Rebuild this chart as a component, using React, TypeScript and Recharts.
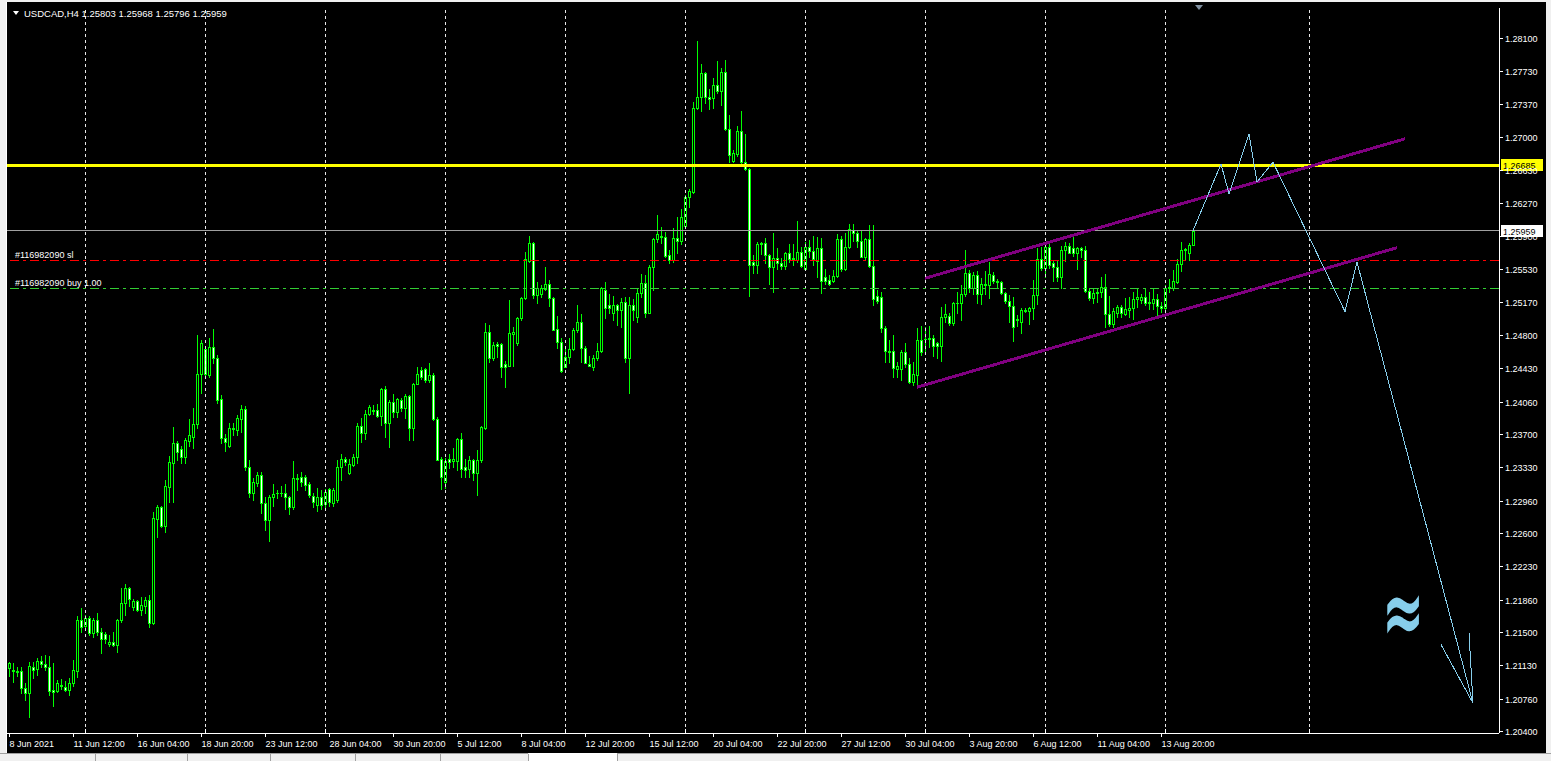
import { ComposedChart, Bar, Line, XAxis, YAxis, ReferenceLine } from "recharts"

// ── USDCAD H4 candles: [open, high, low, close] ───────────────────────────────
const CANDLES: number[][] = [
  [1.2110, 1.2117, 1.2101, 1.2116], [1.2108, 1.2116, 1.2094, 1.2107], [1.2107, 1.2111, 1.2101, 1.2106], [1.2107, 1.2111, 1.2082, 1.2088],
  [1.2088, 1.2093, 1.2074, 1.2082], [1.2082, 1.2117, 1.2056, 1.2112], [1.2111, 1.2117, 1.2099, 1.2108], [1.2109, 1.2121, 1.2102, 1.2118],
  [1.2118, 1.2123, 1.2111, 1.2114], [1.2114, 1.2125, 1.2108, 1.2111], [1.2111, 1.2123, 1.2080, 1.2084], [1.2086, 1.2116, 1.2068, 1.2083],
  [1.2084, 1.2097, 1.2083, 1.2093], [1.2091, 1.2098, 1.2087, 1.2090], [1.2089, 1.2096, 1.2084, 1.2086], [1.2086, 1.2099, 1.2080, 1.2093],
  [1.2093, 1.2119, 1.2090, 1.2108], [1.2107, 1.2168, 1.2100, 1.2163], [1.2163, 1.2177, 1.2150, 1.2156], [1.2157, 1.2169, 1.2152, 1.2166],
  [1.2166, 1.2168, 1.2147, 1.2149], [1.2149, 1.2166, 1.2144, 1.2163], [1.2163, 1.2171, 1.2147, 1.2150], [1.2150, 1.2154, 1.2127, 1.2142],
  [1.2148, 1.2150, 1.2138, 1.2142], [1.2137, 1.2147, 1.2135, 1.2139], [1.2139, 1.2150, 1.2134, 1.2136], [1.2136, 1.2164, 1.2128, 1.2163],
  [1.2163, 1.2199, 1.2161, 1.2182], [1.2182, 1.2203, 1.2169, 1.2199], [1.2199, 1.2200, 1.2179, 1.2187], [1.2178, 1.2187, 1.2174, 1.2184],
  [1.2184, 1.2186, 1.2173, 1.2174], [1.2174, 1.2189, 1.2169, 1.2180], [1.2179, 1.2189, 1.2171, 1.2186], [1.2186, 1.2191, 1.2156, 1.2160],
  [1.2160, 1.2283, 1.2159, 1.2277], [1.2276, 1.2291, 1.2256, 1.2289], [1.2289, 1.2290, 1.2267, 1.2268], [1.2268, 1.2319, 1.2261, 1.2312],
  [1.2311, 1.2346, 1.2294, 1.2339], [1.2338, 1.2378, 1.2294, 1.2360], [1.2360, 1.2362, 1.2341, 1.2350], [1.2353, 1.2357, 1.2338, 1.2344],
  [1.2344, 1.2366, 1.2338, 1.2363], [1.2362, 1.2387, 1.2357, 1.2369], [1.2367, 1.2399, 1.2354, 1.2381], [1.2381, 1.2480, 1.2377, 1.2437],
  [1.2437, 1.2474, 1.2416, 1.2471], [1.2464, 1.2468, 1.2433, 1.2437], [1.2436, 1.2477, 1.2433, 1.2467], [1.2467, 1.2487, 1.2449, 1.2454],
  [1.2454, 1.2458, 1.2404, 1.2408], [1.2409, 1.2413, 1.2360, 1.2366], [1.2366, 1.2370, 1.2351, 1.2361], [1.2357, 1.2382, 1.2356, 1.2377],
  [1.2377, 1.2382, 1.2369, 1.2376], [1.2374, 1.2391, 1.2369, 1.2388], [1.2387, 1.2402, 1.2372, 1.2398], [1.2398, 1.2401, 1.2330, 1.2333],
  [1.2333, 1.2341, 1.2300, 1.2304], [1.2304, 1.2321, 1.2297, 1.2317], [1.2316, 1.2328, 1.2312, 1.2324], [1.2324, 1.2328, 1.2282, 1.2293],
  [1.2293, 1.2300, 1.2263, 1.2274], [1.2274, 1.2302, 1.2251, 1.2300], [1.2300, 1.2314, 1.2290, 1.2303], [1.2304, 1.2308, 1.2299, 1.2305],
  [1.2305, 1.2312, 1.2301, 1.2304], [1.2304, 1.2314, 1.2287, 1.2300], [1.2300, 1.2301, 1.2281, 1.2289], [1.2289, 1.2340, 1.2287, 1.2321],
  [1.2321, 1.2326, 1.2308, 1.2320], [1.2322, 1.2328, 1.2312, 1.2317], [1.2322, 1.2325, 1.2308, 1.2313], [1.2314, 1.2317, 1.2300, 1.2302],
  [1.2301, 1.2305, 1.2289, 1.2294], [1.2291, 1.2310, 1.2285, 1.2300], [1.2300, 1.2308, 1.2287, 1.2291], [1.2292, 1.2309, 1.2288, 1.2306],
  [1.2309, 1.2310, 1.2290, 1.2294], [1.2293, 1.2310, 1.2290, 1.2308], [1.2297, 1.2341, 1.2294, 1.2333], [1.2333, 1.2348, 1.2319, 1.2342],
  [1.2342, 1.2344, 1.2336, 1.2339], [1.2327, 1.2342, 1.2326, 1.2337], [1.2336, 1.2348, 1.2334, 1.2345], [1.2345, 1.2382, 1.2338, 1.2379],
  [1.2379, 1.2388, 1.2361, 1.2371], [1.2371, 1.2397, 1.2364, 1.2392], [1.2392, 1.2402, 1.2391, 1.2400], [1.2396, 1.2402, 1.2392, 1.2397],
  [1.2397, 1.2403, 1.2389, 1.2390], [1.2390, 1.2421, 1.2380, 1.2420], [1.2420, 1.2423, 1.2367, 1.2382], [1.2382, 1.2408, 1.2356, 1.2406],
  [1.2406, 1.2414, 1.2389, 1.2394], [1.2394, 1.2410, 1.2389, 1.2409], [1.2408, 1.2410, 1.2395, 1.2399], [1.2399, 1.2414, 1.2388, 1.2412],
  [1.2412, 1.2413, 1.2363, 1.2377], [1.2377, 1.2427, 1.2363, 1.2426], [1.2426, 1.2444, 1.2425, 1.2437], [1.2441, 1.2444, 1.2431, 1.2433],
  [1.2442, 1.2443, 1.2428, 1.2430], [1.2430, 1.2449, 1.2428, 1.2436], [1.2436, 1.2438, 1.2386, 1.2387], [1.2387, 1.2389, 1.2341, 1.2341],
  [1.2342, 1.2344, 1.2309, 1.2322], [1.2317, 1.2343, 1.2310, 1.2340], [1.2342, 1.2348, 1.2332, 1.2339], [1.2340, 1.2354, 1.2333, 1.2342],
  [1.2340, 1.2366, 1.2330, 1.2364], [1.2364, 1.2371, 1.2322, 1.2331], [1.2333, 1.2342, 1.2322, 1.2330], [1.2331, 1.2346, 1.2322, 1.2341],
  [1.2341, 1.2342, 1.2319, 1.2327], [1.2327, 1.2352, 1.2302, 1.2341], [1.2341, 1.2379, 1.2339, 1.2378], [1.2377, 1.2493, 1.2376, 1.2483],
  [1.2483, 1.2491, 1.2450, 1.2454], [1.2454, 1.2472, 1.2452, 1.2469], [1.2470, 1.2472, 1.2456, 1.2468], [1.2470, 1.2471, 1.2433, 1.2444],
  [1.2448, 1.2451, 1.2422, 1.2444], [1.2446, 1.2519, 1.2446, 1.2482], [1.2481, 1.2489, 1.2446, 1.2483], [1.2471, 1.2500, 1.2469, 1.2499],
  [1.2499, 1.2522, 1.2497, 1.2521], [1.2521, 1.2572, 1.2520, 1.2564], [1.2562, 1.2590, 1.2561, 1.2582], [1.2582, 1.2583, 1.2521, 1.2524],
  [1.2524, 1.2539, 1.2516, 1.2532], [1.2526, 1.2536, 1.2522, 1.2532], [1.2531, 1.2556, 1.2530, 1.2537], [1.2537, 1.2541, 1.2512, 1.2521],
  [1.2521, 1.2522, 1.2486, 1.2486], [1.2487, 1.2501, 1.2466, 1.2472], [1.2472, 1.2477, 1.2439, 1.2440], [1.2444, 1.2468, 1.2444, 1.2456],
  [1.2456, 1.2477, 1.2449, 1.2464], [1.2464, 1.2488, 1.2463, 1.2486], [1.2486, 1.2513, 1.2483, 1.2494], [1.2494, 1.2503, 1.2450, 1.2466],
  [1.2466, 1.2468, 1.2449, 1.2449], [1.2448, 1.2457, 1.2445, 1.2446], [1.2444, 1.2458, 1.2441, 1.2454], [1.2454, 1.2471, 1.2452, 1.2462],
  [1.2462, 1.2533, 1.2461, 1.2532], [1.2530, 1.2539, 1.2499, 1.2510], [1.2513, 1.2526, 1.2504, 1.2510], [1.2504, 1.2523, 1.2497, 1.2513],
  [1.2513, 1.2514, 1.2491, 1.2508], [1.2508, 1.2521, 1.2489, 1.2517], [1.2517, 1.2522, 1.2450, 1.2454], [1.2454, 1.2522, 1.2416, 1.2513],
  [1.2513, 1.2520, 1.2497, 1.2508], [1.2500, 1.2531, 1.2494, 1.2527], [1.2527, 1.2548, 1.2522, 1.2538], [1.2538, 1.2547, 1.2500, 1.2504],
  [1.2504, 1.2558, 1.2504, 1.2556], [1.2556, 1.2588, 1.2530, 1.2587], [1.2587, 1.2613, 1.2583, 1.2592], [1.2590, 1.2600, 1.2582, 1.2589],
  [1.2589, 1.2594, 1.2567, 1.2568], [1.2569, 1.2574, 1.2560, 1.2563], [1.2563, 1.2599, 1.2561, 1.2588], [1.2588, 1.2611, 1.2571, 1.2584],
  [1.2584, 1.2620, 1.2581, 1.2611], [1.2601, 1.2636, 1.2600, 1.2633], [1.2633, 1.2642, 1.2622, 1.2640], [1.2639, 1.2739, 1.2638, 1.2732],
  [1.2732, 1.2807, 1.2731, 1.2744], [1.2744, 1.2781, 1.2729, 1.2771], [1.2771, 1.2772, 1.2738, 1.2744], [1.2744, 1.2753, 1.2731, 1.2742],
  [1.2743, 1.2766, 1.2732, 1.2758], [1.2758, 1.2784, 1.2749, 1.2751], [1.2751, 1.2777, 1.2736, 1.2772], [1.2772, 1.2786, 1.2708, 1.2709],
  [1.2709, 1.2724, 1.2672, 1.2680], [1.2673, 1.2686, 1.2672, 1.2682], [1.2681, 1.2712, 1.2679, 1.2707], [1.2707, 1.2729, 1.2671, 1.2672],
  [1.2672, 1.2703, 1.2663, 1.2664], [1.2664, 1.2665, 1.2523, 1.2558], [1.2561, 1.2569, 1.2549, 1.2558], [1.2558, 1.2583, 1.2549, 1.2581],
  [1.2581, 1.2583, 1.2570, 1.2582], [1.2582, 1.2588, 1.2560, 1.2569], [1.2569, 1.2570, 1.2537, 1.2556], [1.2556, 1.2593, 1.2528, 1.2566],
  [1.2566, 1.2577, 1.2553, 1.2560], [1.2560, 1.2566, 1.2553, 1.2557], [1.2557, 1.2572, 1.2553, 1.2571], [1.2571, 1.2581, 1.2561, 1.2564],
  [1.2565, 1.2581, 1.2558, 1.2564], [1.2563, 1.2607, 1.2561, 1.2572], [1.2572, 1.2578, 1.2555, 1.2557], [1.2553, 1.2583, 1.2552, 1.2578],
  [1.2578, 1.2586, 1.2567, 1.2573], [1.2573, 1.2590, 1.2558, 1.2564], [1.2562, 1.2589, 1.2544, 1.2577], [1.2577, 1.2588, 1.2527, 1.2540],
  [1.2544, 1.2553, 1.2537, 1.2540], [1.2541, 1.2547, 1.2535, 1.2537], [1.2540, 1.2552, 1.2539, 1.2545], [1.2545, 1.2592, 1.2544, 1.2587],
  [1.2587, 1.2590, 1.2551, 1.2553], [1.2553, 1.2593, 1.2552, 1.2578], [1.2578, 1.2603, 1.2577, 1.2598], [1.2597, 1.2603, 1.2584, 1.2593],
  [1.2593, 1.2597, 1.2578, 1.2584], [1.2584, 1.2596, 1.2567, 1.2567], [1.2567, 1.2588, 1.2563, 1.2587], [1.2587, 1.2602, 1.2555, 1.2557],
  [1.2557, 1.2602, 1.2513, 1.2520], [1.2523, 1.2530, 1.2516, 1.2518], [1.2522, 1.2528, 1.2483, 1.2488], [1.2488, 1.2490, 1.2450, 1.2462],
  [1.2462, 1.2474, 1.2450, 1.2461], [1.2462, 1.2480, 1.2433, 1.2443], [1.2442, 1.2450, 1.2433, 1.2446], [1.2442, 1.2463, 1.2430, 1.2461],
  [1.2461, 1.2471, 1.2444, 1.2448], [1.2448, 1.2454, 1.2427, 1.2428], [1.2428, 1.2450, 1.2424, 1.2437], [1.2436, 1.2488, 1.2422, 1.2474],
  [1.2474, 1.2490, 1.2458, 1.2461], [1.2476, 1.2489, 1.2461, 1.2475], [1.2475, 1.2490, 1.2467, 1.2477], [1.2477, 1.2480, 1.2457, 1.2468],
  [1.2471, 1.2472, 1.2454, 1.2468], [1.2468, 1.2511, 1.2451, 1.2500], [1.2500, 1.2514, 1.2494, 1.2503], [1.2501, 1.2504, 1.2491, 1.2493],
  [1.2493, 1.2517, 1.2491, 1.2516], [1.2516, 1.2528, 1.2504, 1.2515], [1.2515, 1.2536, 1.2497, 1.2526], [1.2526, 1.2574, 1.2523, 1.2549],
  [1.2549, 1.2552, 1.2528, 1.2532], [1.2532, 1.2550, 1.2525, 1.2547], [1.2547, 1.2551, 1.2516, 1.2526], [1.2526, 1.2543, 1.2514, 1.2537],
  [1.2537, 1.2551, 1.2525, 1.2536], [1.2536, 1.2561, 1.2521, 1.2548], [1.2547, 1.2550, 1.2538, 1.2540], [1.2540, 1.2542, 1.2533, 1.2539],
  [1.2539, 1.2540, 1.2526, 1.2527], [1.2527, 1.2528, 1.2516, 1.2518], [1.2518, 1.2524, 1.2494, 1.2512], [1.2512, 1.2522, 1.2473, 1.2489],
  [1.2497, 1.2502, 1.2490, 1.2498], [1.2494, 1.2510, 1.2482, 1.2508], [1.2508, 1.2510, 1.2505, 1.2507], [1.2507, 1.2511, 1.2492, 1.2510],
  [1.2510, 1.2541, 1.2498, 1.2524], [1.2524, 1.2577, 1.2514, 1.2564], [1.2564, 1.2578, 1.2552, 1.2554], [1.2554, 1.2583, 1.2544, 1.2578],
  [1.2578, 1.2582, 1.2554, 1.2558], [1.2560, 1.2563, 1.2540, 1.2556], [1.2556, 1.2563, 1.2540, 1.2544], [1.2544, 1.2579, 1.2532, 1.2574],
  [1.2574, 1.2583, 1.2562, 1.2579], [1.2579, 1.2582, 1.2571, 1.2571], [1.2577, 1.2589, 1.2568, 1.2571], [1.2571, 1.2578, 1.2553, 1.2577],
  [1.2577, 1.2578, 1.2567, 1.2574], [1.2574, 1.2579, 1.2528, 1.2529], [1.2529, 1.2532, 1.2519, 1.2521], [1.2521, 1.2532, 1.2516, 1.2527],
  [1.2527, 1.2532, 1.2517, 1.2528], [1.2528, 1.2544, 1.2522, 1.2533], [1.2533, 1.2548, 1.2489, 1.2503], [1.2503, 1.2523, 1.2490, 1.2492],
  [1.2492, 1.2510, 1.2489, 1.2507], [1.2504, 1.2513, 1.2500, 1.2511], [1.2511, 1.2513, 1.2500, 1.2504], [1.2503, 1.2521, 1.2502, 1.2509],
  [1.2508, 1.2522, 1.2500, 1.2510], [1.2510, 1.2528, 1.2498, 1.2520], [1.2520, 1.2532, 1.2511, 1.2522], [1.2519, 1.2525, 1.2516, 1.2522],
  [1.2522, 1.2532, 1.2513, 1.2516], [1.2516, 1.2528, 1.2509, 1.2517], [1.2516, 1.2532, 1.2509, 1.2520], [1.2520, 1.2526, 1.2500, 1.2512],
  [1.2512, 1.2517, 1.2506, 1.2510], [1.2510, 1.2536, 1.2502, 1.2532], [1.2532, 1.2542, 1.2528, 1.2533], [1.2532, 1.2552, 1.2530, 1.2540],
  [1.2539, 1.2564, 1.2538, 1.2559], [1.2559, 1.2583, 1.2551, 1.2574], [1.2574, 1.2577, 1.2563, 1.2575], [1.2571, 1.2582, 1.2563, 1.2580],
  [1.25803, 1.25968, 1.25796, 1.25959],
]

// bar index -> time label on the bottom scale
const TIME_LABELS: [number, string][] = [
  [0, "8 Jun 2021"], [16, "11 Jun 12:00"], [32, "16 Jun 04:00"], [48, "18 Jun 20:00"], [64, "23 Jun 12:00"],
  [80, "28 Jun 04:00"], [96, "30 Jun 20:00"], [112, "5 Jul 12:00"], [128, "8 Jul 04:00"], [144, "12 Jul 20:00"],
  [160, "15 Jul 12:00"], [176, "20 Jul 04:00"], [192, "22 Jul 20:00"], [208, "27 Jul 12:00"], [224, "30 Jul 04:00"],
  [240, "3 Aug 20:00"], [256, "6 Aug 12:00"], [272, "11 Aug 04:00"], [288, "13 Aug 20:00"],
]
const WEEK_BARS = [19, 49, 79, 109, 139, 169, 199, 229, 259, 289, 325]
const PRICE_TICKS = [
  1.281, 1.2773, 1.2737, 1.27, 1.2663, 1.2627, 1.259, 1.2553, 1.2517, 1.248, 1.2443,
  1.2406, 1.237, 1.2333, 1.2296, 1.226, 1.2223, 1.2186, 1.215, 1.2113, 1.2076, 1.204,
]
const TOTAL_BARS = 373 // includes empty future space on the right

const SYMBOL = "USDCAD,H4"
const RESISTANCE = 1.26685
const BID = 1.25959
const STOP_LOSS = 1.2563
const ENTRY = 1.2532
const TICKET = "#116982090"

const CHANNEL_UPPER = [[229, 1.2543], [349, 1.2698]]
const CHANNEL_LOWER = [[227, 1.2422], [347, 1.2577]]
const PATH_BARS = [296, 303, 305, 310, 312, 316, 334, 337, 366]
const PATH_PRICES = [1.2596, 1.2670, 1.2637, 1.2703, 1.2650, 1.2672, 1.2506, 1.2561, 1.2071]
const ARROW_LEGS = [
  [[358, 1.2136], [366, 1.2071]],
  [[365, 1.2149], [366, 1.2071]],
]

// ── Styling ──────────────────────────────────────────────────────────────────
const GREEN = "#00ff00"
const FONT = "'Liberation Sans', Arial, sans-serif"
const SKY = "#87ceeb"

const labelMap = new Map(TIME_LABELS)

const rows = Array.from({ length: TOTAL_BARS }, (_, i) => {
  const c = CANDLES[i]
  const pIdx = PATH_BARS.indexOf(i)
  return {
    i,
    range: c ? [c[2], c[1]] : null,
    o: c ? c[0] : null,
    h: c ? c[1] : null,
    l: c ? c[2] : null,
    c: c ? c[3] : null,
    path: pIdx >= 0 ? PATH_PRICES[pIdx] : null,
  }
})

function Candle(props: any) {
  const { x, y, width, height, payload } = props
  if (!payload || payload.o == null || !(height > 0)) return null
  const { o, h, l, c } = payload
  const k = height / (h - l)
  const px = Math.round(x + width / 2) + 0.5
  const yO = Math.round(y + (h - o) * k)
  const yC = Math.round(y + (h - c) * k)
  const top = Math.min(yO, yC)
  const bot = Math.max(yO, yC)
  return (
    <g>
      <line x1={px} x2={px} y1={Math.round(y)} y2={Math.round(y + height) + 1} stroke={GREEN} />
      {bot - top < 1 ? (
        <line x1={px - 1.5} x2={px + 1.5} y1={top + 0.5} y2={top + 0.5} stroke={GREEN} />
      ) : (
        <rect x={px - 1} y={top + 0.5} width={2} height={bot - top} fill={c >= o ? "#000" : "#fff"} stroke={GREEN} />
      )}
    </g>
  )
}

function TimeTick({ x, y, payload }: any) {
  const i = payload.value
  const label = labelMap.get(i)
  const week = WEEK_BARS.includes(i)
  if (!label && !week) return null
  const px = Math.round(x) + 0.5
  return (
    <g>
      {week && <line x1={px} x2={px} y1={y - 4} y2={y} stroke="#fff" />}
      {label && <line x1={px} x2={px} y1={y} y2={y + 4} stroke="#fff" />}
      {label && (
        <text x={px} y={y + 14} fontSize={9} fill="#fff" fontFamily={FONT}>
          {label}
        </text>
      )}
    </g>
  )
}

function PriceTick({ x, y, payload }: any) {
  const py = Math.round(y) + 0.5
  return (
    <g>
      <line x1={x} x2={x + 4} y1={py} y2={py} stroke="#fff" />
      <text x={x + 6} y={py + 3.5} fontSize={9} fill="#fff" fontFamily={FONT}>
        {payload.value.toFixed(5)}
      </text>
    </g>
  )
}

function PriceTag({ viewBox, text, bg }: any) {
  if (!viewBox) return null
  const x = viewBox.x + viewBox.width + 2
  const y = Math.round(viewBox.y)
  return (
    <g>
      <rect x={x} y={y - 6} width={42} height={12} fill={bg} />
      <text x={x + 2} y={y + 4} fontSize={9} fill="#000" fontFamily={FONT}>
        {text}
      </text>
    </g>
  )
}

function OrderTag({ viewBox, text }: any) {
  if (!viewBox) return null
  return (
    <text x={viewBox.x + 8} y={viewBox.y - 2} fontSize={9} fill="#fff" fontFamily={FONT}>
      {text}
    </text>
  )
}

// separators of the window tab strip under the chart
const TAB_EDGES = [95, 187, 270, 355, 440, 528, 617]

export default function App() {
  return (
    <div style={{ position: "fixed", left: 0, top: 0, width: 1551, height: 761, background: "#f0f0f0", overflow: "hidden" }}>
      <div style={{ position: "absolute", left: 6, top: 2, width: 1539, height: 751, background: "#000", borderLeft: "1px solid #fff" }} />
      <div style={{ position: "absolute", left: 0, top: 0 }}>
        <ComposedChart
          width={1545}
          height={753}
          data={rows}
          margin={{ top: 8, right: 0, left: 7, bottom: 0 }}
          style={{ shapeRendering: "crispEdges" }}
        >
          <XAxis
            dataKey="i"
            type="category"
            interval={0}
            height={20}
            tickSize={0}
            tickMargin={0}
            tickLine={false}
            axisLine={{ stroke: "#fff" }}
            tick={<TimeTick />}
          />
          <YAxis
            orientation="right"
            type="number"
            width={46}
            domain={[1.20378, 1.28433]}
            allowDataOverflow
            ticks={PRICE_TICKS}
            interval={0}
            tickSize={0}
            tickMargin={0}
            tickLine={false}
            axisLine={{ stroke: "#fff" }}
            tick={<PriceTick />}
          />
          {WEEK_BARS.map((b) => (
            <ReferenceLine key={`w${b}`} x={b} stroke="#e8e8e8" strokeDasharray="3 3" />
          ))}
          <ReferenceLine y={STOP_LOSS} stroke="#ff0000" strokeDasharray="9 4 3 4" label={<OrderTag text={`${TICKET} sl`} />} />
          <ReferenceLine y={ENTRY} stroke="#32cd32" strokeDasharray="9 4 3 4" label={<OrderTag text={`${TICKET} buy 1.00`} />} />
          <Bar dataKey="range" shape={<Candle />} isAnimationActive={false} />
          <ReferenceLine y={BID} stroke="#a0a0a0" label={<PriceTag text={BID.toFixed(5)} bg="#ffffff" />} />
          <ReferenceLine y={RESISTANCE} stroke="#ffff00" strokeWidth={3} label={<PriceTag text={RESISTANCE.toFixed(5)} bg="#ffff00" />} />
          <ReferenceLine
            segment={[{ x: CHANNEL_UPPER[0][0], y: CHANNEL_UPPER[0][1] }, { x: CHANNEL_UPPER[1][0], y: CHANNEL_UPPER[1][1] }]}
            stroke="#800080"
            strokeWidth={3}
          />
          <ReferenceLine
            segment={[{ x: CHANNEL_LOWER[0][0], y: CHANNEL_LOWER[0][1] }, { x: CHANNEL_LOWER[1][0], y: CHANNEL_LOWER[1][1] }]}
            stroke="#800080"
            strokeWidth={3}
          />
          {ARROW_LEGS.map((seg, k) => (
            <ReferenceLine
              key={`a${k}`}
              segment={[{ x: seg[0][0], y: seg[0][1] }, { x: seg[1][0], y: seg[1][1] }]}
              stroke={SKY}
            />
          ))}
          <Line dataKey="path" stroke={SKY} strokeWidth={1} dot={false} connectNulls isAnimationActive={false} />
        </ComposedChart>
      </div>
      <svg width={1551} height={761} style={{ position: "absolute", left: 0, top: 0, pointerEvents: "none" }}>
        <polygon points="13,11 19,11 16,15" fill="#fff" />
        <text x={24} y={17} fontSize={9.5} fill="#fff" fontFamily={FONT}>
          {`${SYMBOL} ${CANDLES[CANDLES.length - 1].map((v) => v.toFixed(5)).join(" ")}`}
        </text>
        <polygon points="1195,5 1203,5 1199,10" fill="#8090a0" />
        <text
          transform="translate(1403 611) scale(0.9 1.75)"
          textAnchor="middle"
          dominantBaseline="central"
          fontSize={54}
          fill={SKY}
          stroke={SKY}
          strokeWidth={1.2}
          fontFamily="'DejaVu Sans', sans-serif"
          style={{ shapeRendering: "auto" }}
        >
          ≈
        </text>
        <rect x={0} y={753} width={1551} height={8} fill="#f0f0f0" />
        <line x1={0} x2={528} y1={753.5} y2={753.5} stroke="#a0a0a0" />
        <line x1={617} x2={1551} y1={753.5} y2={753.5} stroke="#a0a0a0" />
        {TAB_EDGES.map((e) => (
          <line key={e} x1={e + 0.5} x2={e + 0.5} y1={754} y2={761} stroke="#a0a0a0" />
        ))}
        <rect x={529} y={753} width={88} height={8} fill="#ffffff" />
      </svg>
    </div>
  )
}
